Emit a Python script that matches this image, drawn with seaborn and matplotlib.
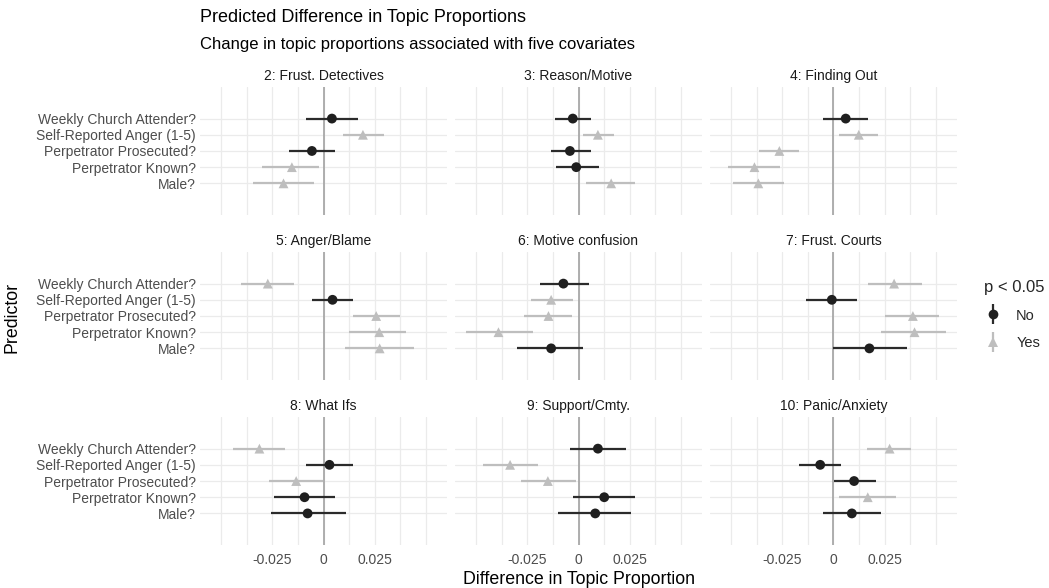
import numpy as np
import pandas as pd
import matplotlib
matplotlib.use("Agg")
import matplotlib.pyplot as plt
import seaborn as sns
from matplotlib.lines import Line2D
from matplotlib.legend_handler import HandlerTuple

# ---------------- data ----------------
topics = ["2: Frust. Detectives", "3: Reason/Motive", "4: Finding Out",
          "5: Anger/Blame", "6: Motive confusion", "7: Frust. Courts",
          "8: What Ifs", "9: Support/Cmty.", "10: Panic/Anxiety"]
predictors = ["Weekly Church Attender?", "Self-Reported Anger (1-5)",
              "Perpetrator Prosecuted?", "Perpetrator Known?", "Male?"]

# estimates / lower / upper / significance, one list per topic (predictor order above)
est_t2 = [0.0041, 0.0193, -0.0057, -0.0155, -0.0196]
lo_t2 = [-0.0087, 0.0093, -0.0167, -0.0302, -0.0343]
hi_t2 = [0.0168, 0.0294, 0.0054, -0.0021, -0.0046]
sig_t2 = ["No", "Yes", "No", "Yes", "Yes"]

est_t3 = [-0.0028, 0.0095, -0.0042, -0.0011, 0.0160]
lo_t3 = [-0.0114, 0.0020, -0.0134, -0.0110, 0.0038]
hi_t3 = [0.0059, 0.0172, 0.0059, 0.0101, 0.0278]
sig_t3 = ["No", "Yes", "No", "No", "Yes"]

est_t4 = [0.0060, 0.0124, -0.0265, -0.0387, -0.0368]
lo_t4 = [-0.0052, 0.0029, -0.0363, -0.0518, -0.0490]
hi_t4 = [0.0168, 0.0217, -0.0170, -0.0261, -0.0242]
sig_t4 = ["No", "Yes", "Yes", "Yes", "Yes"]

est_t5 = [-0.0273, 0.0044, 0.0258, 0.0273, 0.0275]
lo_t5 = [-0.0405, -0.0057, 0.0142, 0.0123, 0.0106]
hi_t5 = [-0.0147, 0.0142, 0.0376, 0.0404, 0.0444]
sig_t5 = ["Yes", "No", "Yes", "Yes", "Yes"]

est_t6 = [-0.0074, -0.0134, -0.0147, -0.0392, -0.0134]
lo_t6 = [-0.0188, -0.0232, -0.0266, -0.0551, -0.0299]
hi_t6 = [0.0049, -0.0028, -0.0033, -0.0221, 0.0021]
sig_t6 = ["No", "Yes", "Yes", "Yes", "No"]

est_t7 = [0.0297, -0.0008, 0.0389, 0.0397, 0.0176]
lo_t7 = [0.0167, -0.0136, 0.0253, 0.0234, -0.0003]
hi_t7 = [0.0433, 0.0114, 0.0515, 0.0551, 0.0360]
sig_t7 = ["Yes", "No", "Yes", "Yes", "No"]

est_t8 = [-0.0314, 0.0029, -0.0134, -0.0093, -0.0078]
lo_t8 = [-0.0441, -0.0085, -0.0266, -0.0245, -0.0257]
hi_t8 = [-0.0188, 0.0142, -0.0003, 0.0054, 0.0111]
sig_t8 = ["Yes", "No", "Yes", "No", "No"]

est_t9 = [0.0095, -0.0335, -0.0150, 0.0126, 0.0082]
lo_t9 = [-0.0041, -0.0466, -0.0283, -0.0025, -0.0098]
hi_t9 = [0.0234, -0.0199, -0.0011, 0.0278, 0.0258]
sig_t9 = ["No", "Yes", "Yes", "No", "No"]

est_t10 = [0.0275, -0.0065, 0.0101, 0.0168, 0.0090]
lo_t10 = [0.0163, -0.0167, 0.0005, 0.0029, -0.0052]
hi_t10 = [0.0379, 0.0038, 0.0209, 0.0306, 0.0234]
sig_t10 = ["Yes", "No", "No", "Yes", "No"]

x_ticks = [-0.025, 0, 0.025]
x_tick_labels = ["-0.025", "0", "0.025"]

# ---------------- build table ----------------
all_est = [est_t2, est_t3, est_t4, est_t5, est_t6, est_t7, est_t8, est_t9, est_t10]
all_lo = [lo_t2, lo_t3, lo_t4, lo_t5, lo_t6, lo_t7, lo_t8, lo_t9, lo_t10]
all_hi = [hi_t2, hi_t3, hi_t4, hi_t5, hi_t6, hi_t7, hi_t8, hi_t9, hi_t10]
all_sig = [sig_t2, sig_t3, sig_t4, sig_t5, sig_t6, sig_t7, sig_t8, sig_t9, sig_t10]

rows = []
npred = len(predictors)
for t, e, lo, hi, sg in zip(topics, all_est, all_lo, all_hi, all_sig):
    for i, p in enumerate(predictors):
        rows.append(dict(topic=t, predictor=p, ypos=npred - 1 - i,
                         estimate=e[i], lower=lo[i], upper=hi[i], sig=sg[i]))
df = pd.DataFrame(rows)

# ---------------- style ----------------
sns.set_theme(style="white")
plt.rcParams["font.family"] = ["Liberation Sans", "DejaVu Sans"]

DARK_PT = "#1f1f1f"
DARK_LN = "#2b2b2b"
LIGHT = "#BEBEBE"
GRID = "#EBEBEB"
ZERO = "#A8A8A8"
palette = {"No": DARK_PT, "Yes": LIGHT}
line_cols = {"No": DARK_LN, "Yes": LIGHT}
markers = {"No": "o", "Yes": "^"}

g = sns.FacetGrid(df, col="topic", col_order=topics, col_wrap=3,
                  sharex=True, sharey=True, height=2, aspect=1.9)


def draw(data, **kw):
    ax = plt.gca()
    ax.axvline(0, color=ZERO, lw=1.3, zorder=1)
    for s in ["No", "Yes"]:
        d = data[data["sig"] == s]
        ax.hlines(d["ypos"], d["lower"], d["upper"], color=line_cols[s],
                  lw=1.6, zorder=2)
    sns.scatterplot(data=data, x="estimate", y="ypos", hue="sig", style="sig",
                    hue_order=["No", "Yes"], style_order=["No", "Yes"],
                    palette=palette, markers=markers, s=50, linewidth=0,
                    legend=False, ax=ax, zorder=3)


g.map_dataframe(draw)
g.set_titles("{col_name}", size=10, color="#1a1a1a", pad=5)
g.set_axis_labels("", "")

for ax in g.axes.flat:
    ax.set_xlim(-0.0605, 0.0605)
    ax.set_ylim(-1.95, 5.95)
    ax.set_xticks(x_ticks)
    ax.set_xticks(np.arange(-0.05, 0.0501, 0.0125), minor=True)
    ax.set_yticks(range(npred))
    ax.grid(which="both", axis="x", color=GRID, lw=0.9)
    ax.grid(which="major", axis="y", color=GRID, lw=0.9)
    ax.set_axisbelow(True)
    ax.tick_params(which="both", length=0, labelsize=10,
                   labelcolor="#4D4D4D", pad=3)
    ax.tick_params(axis="x", pad=6)
    for sp in ax.spines.values():
        sp.set_visible(False)

for i, ax in enumerate(g.axes.flat):
    if i % 3 == 0:
        ax.set_yticklabels(predictors[::-1])
    if i >= 6:
        ax.set_xticklabels(x_tick_labels)

fig = g.figure
fig.set_size_inches(10.49, 5.88)
fig.subplots_adjust(left=200 / 1049, right=957 / 1049, top=1 - 87 / 588,
                    bottom=1 - 545 / 588, wspace=0.032, hspace=0.29)

fig.text(200 / 1049, 1 - 18 / 588, "Predicted Difference in Topic Proportions",
         ha="left", va="center", fontsize=13, color="black")
fig.text(200 / 1049, 1 - 44 / 588,
         "Change in topic proportions associated with five covariates",
         ha="left", va="center", fontsize=12, color="black")
fig.text(579 / 1049, 1 - 579 / 588, "Difference in Topic Proportion",
         ha="center", va="center", fontsize=12.8, color="black")
fig.text(12 / 1049, 1 - 317 / 588, "Predictor", rotation=90,
         ha="center", va="center", fontsize=12.8, color="black")

# legend
h_no = (Line2D([], [], marker="|", markersize=15, markeredgewidth=1.6,
               color=DARK_LN, linestyle="None"),
        Line2D([], [], marker="o", markersize=7, color=DARK_PT,
               markeredgewidth=0, linestyle="None"))
h_yes = (Line2D([], [], marker="|", markersize=15, markeredgewidth=1.6,
                color=LIGHT, linestyle="None"),
         Line2D([], [], marker="^", markersize=7.5, color=LIGHT,
                markeredgewidth=0, linestyle="None"))
leg = fig.legend([h_no, h_yes], ["No", "Yes"],
                 handler_map={tuple: HandlerTuple(ndivide=1)},
                 title="p < 0.05", loc="center left",
                 bbox_to_anchor=(971 / 1049, 1 - 315 / 588), frameon=False,
                 fontsize=10.5, title_fontsize=12, handlelength=1.2,
                 labelspacing=0.9, handletextpad=1.0)
leg._legend_box.align = "left"

fig.savefig("out.png", dpi=100)
